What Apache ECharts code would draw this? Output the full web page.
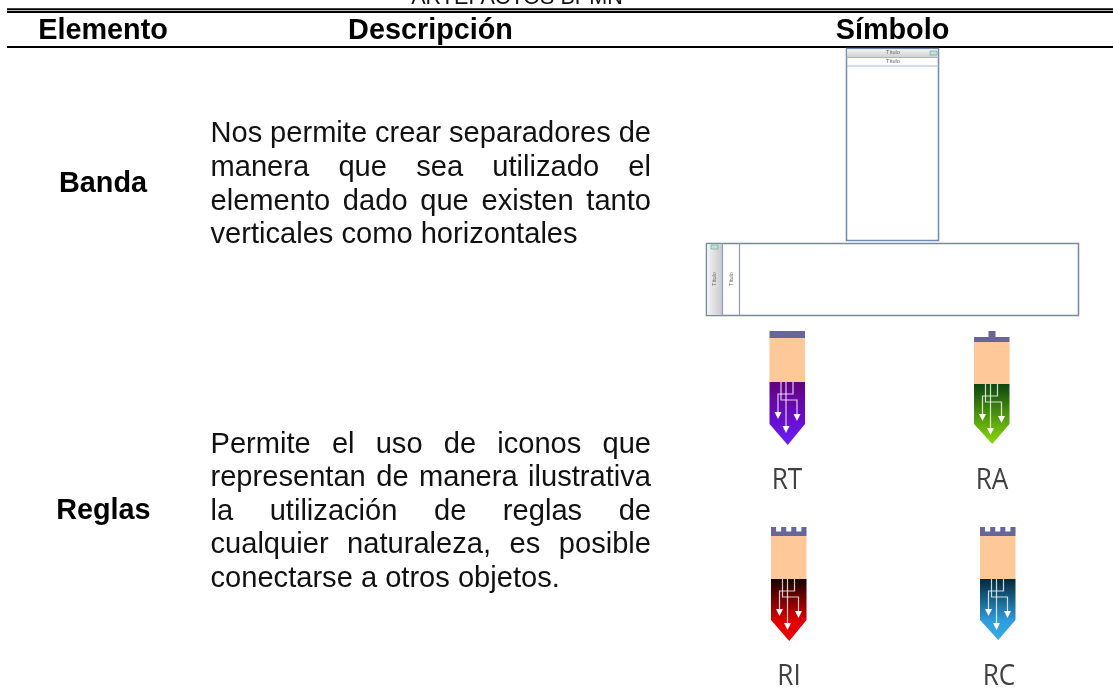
<!DOCTYPE html>
<html><head><meta charset="utf-8">
<style>html,body{margin:0;padding:0;background:#fff;overflow:hidden}#c{width:1113px;height:688px}</style>
<script src="https://cdn.jsdelivr.net/npm/echarts@6/dist/echarts.min.js"></script>
</head><body><div id="c"></div>
<script>
const tableTitle = 'ARTEFACTOS BPMN';
const headers = ['Elemento', 'Descripción', 'Símbolo'];
const elements = ['Banda', 'Reglas'];
const bandaLines = ['Nos permite crear separadores de', 'manera que sea utilizado el', 'elemento dado que existen tanto', 'verticales como horizontales'];
const reglasLines = ['Permite el uso de iconos que', 'representan de manera ilustrativa', 'la utilización de reglas de', 'cualquier naturaleza, es posible', 'conectarse a otros objetos.'];
const ruleLabels = ['RT', 'RA', 'RI', 'RC'];
const poolLabel = 'Título';

const FF = '"Liberation Sans", Arial, sans-serif';
const g = [];
const ctx = document.createElement('canvas').getContext('2d');
function rule(x1, x2, y, w) { g.push({type:'rect', shape:{x:x1, y:y, width:x2-x1, height:w}, style:{fill:'#000'}}); }
function txt(s, x, y, size, o) {
  o = o || {};
  g.push({type:'text', x:x, y:y, rotation:o.rot||0, scaleX:o.sx||1, style:{text:s, font:(o.bold?'bold ':'')+size+'px '+(o.ff||FF), fill:o.fill||'#000', align:o.align||'center', verticalAlign:o.va||'middle'}});
}
function para(lines, x, w, y0, pitch, size) {
  ctx.font = size+'px "Liberation Sans"';
  lines.forEach((l, i) => {
    const y = y0 + i*pitch;
    if (i === lines.length-1) { txt(l, x, y, size, {align:'left', fill:'#111'}); return; }
    const ws = l.split(' ');
    const tot = ws.reduce((a, b) => a + ctx.measureText(b).width, 0);
    const gap = (w - tot) / (ws.length-1);
    let cx = x;
    ws.forEach(t => { txt(t, cx, y, size, {align:'left', fill:'#111'}); cx += ctx.measureText(t).width + gap; });
  });
}
function pool() {
  const B = '#7386b4';
  g.push({type:'rect', shape:{x:846.5,y:48.5,width:92,height:192}, style:{fill:'#fff',stroke:B,lineWidth:1.5}});
  g.push({type:'rect', shape:{x:847.2,y:49.2,width:90.6,height:8}, style:{fill:{type:'linear',x:0,y:0,x2:0,y2:1,colorStops:[{offset:0,color:'#f4f4f4'},{offset:1,color:'#cfcfcf'}]}}});
  g.push({type:'line', shape:{x1:846.5,y1:57.5,x2:938.5,y2:57.5}, style:{stroke:'#a9b5d2',lineWidth:1}});
  g.push({type:'line', shape:{x1:846.5,y1:66,x2:938.5,y2:66}, style:{stroke:'#a9b5d2',lineWidth:1}});
  g.push({type:'rect', shape:{x:930,y:51,width:7,height:4}, style:{fill:'#bfe5d0',stroke:'#6a9a86',lineWidth:0.6}});
  txt(poolLabel, 893, 52.8, 5.5, {fill:'#666'});
  txt(poolLabel, 893, 61.5, 5.5, {fill:'#666'});
  g.push({type:'rect', shape:{x:706.5,y:243.5,width:372,height:72}, style:{fill:'#fff',stroke:B,lineWidth:1.5}});
  g.push({type:'rect', shape:{x:707.2,y:244.2,width:15,height:70.6}, style:{fill:{type:'linear',x:0,y:0,x2:1,y2:0,colorStops:[{offset:0,color:'#f4f4f4'},{offset:1,color:'#c9c9c9'}]}}});
  g.push({type:'line', shape:{x1:722.5,y1:243.5,x2:722.5,y2:315.5}, style:{stroke:'#8b9bc2',lineWidth:1.2}});
  g.push({type:'line', shape:{x1:739.5,y1:243.5,x2:739.5,y2:315.5}, style:{stroke:'#8b9bc2',lineWidth:1.2}});
  g.push({type:'rect', shape:{x:711,y:245,width:7,height:4}, style:{fill:'#bfe5d0',stroke:'#6a9a86',lineWidth:0.6}});
  txt(poolLabel, 714.5, 279, 5.5, {fill:'#666', rot:Math.PI/2});
  txt(poolLabel, 731, 279, 5.5, {fill:'#666', rot:Math.PI/2});
}
function icon(L, capTop, capBot, top, shoulder, tip, c0, c1, cap, label, lx, ly) {
  const W = 35.5, C = '#66669c', R = L + W, M = L + W/2 + 0.5;
  if (cap === 'flat') g.push({type:'rect', shape:{x:L,y:capTop,width:W,height:capBot-capTop}, style:{fill:C}});
  if (cap === 'tab') {
    g.push({type:'rect', shape:{x:L,y:capTop+6,width:W,height:capBot-capTop-6}, style:{fill:C}});
    g.push({type:'rect', shape:{x:L+14.5,y:capTop,width:7,height:6}, style:{fill:C}});
  }
  if (cap === 'castle') {
    g.push({type:'rect', shape:{x:L,y:capTop+4.5,width:W,height:capBot-capTop-4.5}, style:{fill:C}});
    const tw = W/7;
    for (let i = 0; i < 4; i++) g.push({type:'rect', shape:{x:L+i*2*tw,y:capTop,width:tw,height:5}, style:{fill:C}});
  }
  g.push({type:'rect', shape:{x:L,y:capBot,width:W,height:top-capBot}, style:{fill:'#fec898'}});
  g.push({type:'polygon', shape:{points:[[L,top],[R,top],[R,shoulder],[M,tip],[L,shoulder]]},
    style:{fill:{type:'linear',x:0,y:0,x2:0,y2:1,colorStops:[{offset:0,color:c0},{offset:0.68,color:c1[0]},{offset:1,color:c1[1]}]}}});
  const W2 = 'rgba(255,255,255,0.8)';
  const paths = [
    [[23,0],[23,12],[8,12],[8,30]],
    [[16,0],[16,44]],
    [[11,0],[11,18],[27,18],[27,32]]
  ];
  const tips = [[8,30,7],[16,44,7],[27,32,7]];
  paths.forEach(p => g.push({type:'polyline', shape:{points:p.map(q => [L+q[0]+0.5, top+q[1]])}, style:{stroke:W2,lineWidth:1.2,fill:null}}));
  tips.forEach(t => g.push({type:'polygon', shape:{points:[[L+t[0]-3,top+t[1]],[L+t[0]+4,top+t[1]],[L+t[0]+0.5,top+t[1]+t[2]]]}, style:{fill:'#fff'}}));
  txt(label, lx, ly, 29, {ff:'"Open Sans", "Noto Sans", sans-serif', fill:'#404040', sx:0.9});
}

txt(tableTitle, 517, -2.4, 21.6, {fill:'#111'});
rule(7, 1113, 8.3, 2);
rule(7, 1113, 11, 2);
rule(7, 1113, 46, 2.1);
txt(headers[0], 103, 30.7, 28.8, {bold:true});
txt(headers[1], 430.5, 30.7, 28.8, {bold:true});
txt(headers[2], 892.5, 30.7, 28.8, {bold:true});
txt(elements[0], 103, 184.4, 28.8, {bold:true});
txt(elements[1], 103.4, 511, 28.8, {bold:true});
para(bandaLines, 210.5, 440.5, 134.3, 33.6, 29.1);
para(reglasLines, 210.5, 440.5, 444.8, 33.5, 29.1);
pool();
icon(769.5, 331, 338, 382, 424, 445, '#65007e', ['#6a10d8','#6a20f0'], 'flat', ruleLabels[0], 787, 480.5);
icon(974, 331, 342, 384, 424, 444, '#0d4510', ['#62ad0e','#8cd80a'], 'tab', ruleLabels[1], 992, 480.5);
icon(771, 527, 536, 579, 620, 641, '#120000', ['#e00000','#ee0000'], 'castle', ruleLabels[2], 789, 676.5);
icon(980, 527, 536, 579, 620, 640, '#02283a', ['#2f9cdc','#38ace8'], 'castle', ruleLabels[3], 999, 676.5);

const chart = echarts.init(document.getElementById('c'), null, {renderer:'canvas'});
chart.setOption({backgroundColor:'#fff', animation:false, graphic:{elements:g}});
</script></body></html>
